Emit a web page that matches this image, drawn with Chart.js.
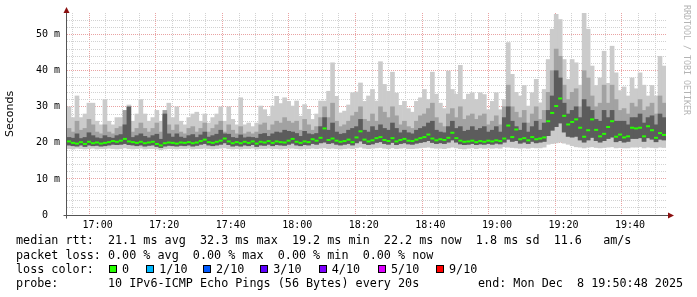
<!DOCTYPE html>
<html>
<head>
<meta charset="utf-8">
<script src="https://cdn.jsdelivr.net/npm/chart.js@4.4.1/dist/chart.umd.min.js"></script>
<style>
  html, body { margin: 0; padding: 0; background: #fff; }
  #wrap { position: relative; width: 697px; height: 297px; overflow: hidden; }
  #wrap canvas { position: absolute; left: 0; top: 0; }
  .leg { position: absolute; left: 16px; margin: 0; font: 11.75px/14px "DejaVu Sans Mono", monospace; color: #000; white-space: pre; }
  .box { position: absolute; top: 265px; width: 6px; height: 6px; border: 1px solid #000; }
  .boxlbl { position: absolute; top: 261.9px; margin: 0; font: 11.75px/14px "DejaVu Sans Mono", monospace; color: #000; white-space: pre; }
  #credit { position: absolute; left: 682px; top: 5px; writing-mode: vertical-rl; font: 8.3px "DejaVu Sans Mono", monospace; color: #b4b4b4; white-space: pre; }
</style>
</head>
<body>
<div id="wrap">
  <canvas id="smoke" width="697" height="297"></canvas>
  <div id="credit">RRDTOOL / TOBI OETIKER</div>
  <pre class="leg" id="l1" style="top:233.2px"></pre>
  <pre class="leg" id="l2" style="top:247.6px"></pre>
  <pre class="leg" id="l3" style="top:261.9px"></pre>
  <pre class="leg" id="l4" style="top:276px"></pre>
  <pre class="leg" id="l5" style="top:276px;left:478px"></pre>
</div>
<script>
/* ── data: 150 samples of 72 s, 16:50:48 → 19:50:48 (ms) ── */
const startLabel = '16:50:48';
const stepSeconds = 72;

const timeLabels = ['17:00', '17:20', '17:40', '18:00', '18:20', '18:40', '19:00', '19:20', '19:40'];

const maxRtt = [
  30, 27, 33, 27, 28, 31, 31, 26, 25, 32,
  26, 25, 27, 27, 26, 30.5, 26, 28, 32, 28,
  26, 27, 29, 26, 27, 31, 27, 30, 26, 25,
  27, 28, 28.5, 26, 28, 25.5, 27, 28, 30, 26,
  30, 26.5, 25, 32.5, 25, 25.5, 24.5, 25.5, 30.2, 29.2,
  27.4, 30.2, 32.9, 30.9, 32.5, 31.5, 30.2, 31.6, 27.4, 30.6,
  29.3, 26.5, 28, 31.6, 31.6, 34.3, 42.2, 32.9, 28.3, 28.8,
  30.5, 33.9, 34.1, 36.6, 31.5, 33, 34.8, 31.6, 42.5, 36.2,
  34.3, 39.6, 33.8, 30.4, 31.5, 29.5, 28.5, 31.5, 32.5, 34.8,
  32, 39.6, 33.5, 31, 29.5, 39.9, 34.8, 33.5, 41.5, 32,
  33.5, 33.9, 32, 33.9, 33.4, 29.2, 31.5, 33.9, 29.2, 32,
  47.8, 39, 34, 33, 35.9, 30.2, 33.9, 37.6, 31.1, 34.8,
  43.1, 51.5, 55.6, 54.2, 43.1, 37.6, 43.1, 42.2, 36, 56,
  51.5, 41.3, 35.9, 38, 45.4, 36.5, 46.8, 39.4, 34.5, 35.5,
  33, 38, 35, 39.4, 36, 33, 35.9, 33, 44, 41.3
];

const upperRtt = [
  24, 23, 26, 23.5, 24, 26.5, 25, 23, 22.5, 25,
  23, 22.5, 24, 24.5, 29, 26, 23, 24, 25.5, 24,
  23, 24, 25.5, 23, 29, 25, 23.5, 25, 23, 22.5,
  24, 24.5, 23, 24, 25.5, 23, 24, 25, 26, 23,
  25, 23.5, 22.5, 24.5, 22.5, 23, 22.5, 23, 25, 25.5,
  23.5, 25, 26, 25.5, 27, 26, 25.5, 26, 23.5, 26.5,
  25, 23.5, 24.5, 27, 30, 27, 31, 26, 24.5, 25,
  26, 27.5, 28.5, 30, 26.5, 26, 28, 26, 30, 28.5,
  27, 30, 27.5, 25, 26, 24.5, 24, 26, 27.5, 28,
  29.5, 31, 27, 25.5, 24.5, 28, 29.5, 27, 30, 26.5,
  27.5, 28, 26.5, 27.5, 28, 25, 26, 27.5, 25, 30,
  36, 30, 28.5, 27, 29, 25.5, 28, 30, 26.5, 29,
  34, 40, 46, 44, 36, 32, 34, 35, 30, 40,
  38, 33, 30, 31, 36, 31, 36, 32, 29, 29.5,
  28, 31, 30, 32, 29, 30, 31, 28, 33, 31
];

const innerRtt = [
  21.5, 21.3, 22.5, 21.2, 21.5, 22.8, 22, 21.4, 21.2, 22,
  21.5, 21.3, 22, 22.3, 25, 30, 21.5, 22, 22.5, 21.8,
  21.4, 22, 22.4, 21, 28, 22.5, 21.6, 22.5, 21.6, 21.3,
  22, 22.3, 21.5, 22.2, 23, 21.6, 22, 22.4, 23.5, 22.5,
  22.4, 21.5, 21.3, 22.2, 21.4, 21.6, 21.5, 21.3, 22.4, 22.6,
  21.8, 22.5, 23, 22.8, 23.5, 23.2, 23, 22.6, 21.8, 23.2,
  22.5, 22.3, 22.6, 24.5, 27, 23.5, 25.5, 23, 22.4, 22.6,
  23.5, 24, 24.5, 26.5, 23.5, 23, 24.5, 23.5, 25, 24,
  23.5, 25.5, 24, 22.8, 23.5, 22.8, 22.5, 23.5, 24, 24.5,
  25.5, 26, 23.5, 23, 22.8, 24.5, 26, 24, 24.5, 23.2,
  23.5, 24.5, 23.5, 24, 24.5, 23, 23.5, 24.5, 23, 27,
  30, 26, 24.5, 23.5, 25.5, 23, 24.5, 26, 23.5, 25.5,
  29, 33, 40, 38, 31, 28, 29, 30, 27, 32,
  30, 29, 26.5, 26, 29, 27, 29, 26, 26, 26,
  25, 27, 27, 28, 25.5, 27, 27.5, 25, 28, 27
];

const medianRtt = [
  20.4, 20.0, 19.8, 20.2, 19.7, 20.3, 19.9, 20.1, 19.8, 20.0,
  20.2, 20.5, 20.3, 20.6, 21.1, 20.4, 20.2, 20.0, 20.3, 19.9,
  20.1, 20.3, 19.7, 19.3, 19.9, 20.1, 20.0, 19.8, 20.1, 20.0,
  20.2, 19.9, 20.1, 20.5, 20.9, 20.2, 20.0, 20.3, 20.6, 21.2,
  20.4, 19.9, 20.2, 19.9, 20.3, 20.0, 20.4, 19.8, 20.3, 20.1,
  20.5, 20.0, 20.4, 20.2, 20.1, 20.6, 21.1, 20.3, 20.0, 20.4,
  20.2, 21.0, 20.6, 21.4, 24.0, 20.8, 21.2, 20.6, 20.3, 20.5,
  20.9, 20.2, 21.5, 23.2, 20.9, 20.4, 20.7, 21.3, 21.6, 20.8,
  20.5, 21.3, 20.4, 20.8, 21.1, 20.6, 20.5, 20.9, 21.3, 21.6,
  22.3, 21.2, 20.7, 21.0, 20.8, 21.4, 22.8, 21.3, 20.6, 20.3,
  20.4, 20.6, 20.2, 20.5, 20.3, 20.6, 20.4, 20.7, 20.5, 21.2,
  24.8, 21.6, 23.7, 21.0, 21.3, 20.7, 21.6, 21.0, 21.2, 21.5,
  26.0, 28.3, 30.2, 32.3, 27.5, 25.1, 25.8, 26.5, 24.2, 21.7,
  23.5, 26.5, 23.6, 21.8, 22.5, 24.4, 26.0, 21.7, 22.3, 21.5,
  21.8, 24.2, 24.0, 24.2, 21.8, 24.6, 23.5, 21.4, 22.7, 22.2
];

const lowRtt = [
  19.4, 19.2, 19.1, 19.4, 19.0, 19.4, 19.2, 19.3, 19.1, 19.2,
  19.4, 19.6, 19.5, 19.6, 19.8, 19.5, 19.4, 19.2, 19.4, 19.1,
  19.3, 19.4, 19.0, 18.7, 19.1, 19.3, 19.2, 19.1, 19.3, 19.2,
  19.4, 19.1, 19.3, 19.6, 19.8, 19.4, 19.2, 19.4, 19.6, 20.0,
  19.5, 19.1, 19.3, 19.1, 19.4, 19.2, 19.5, 19.0, 19.4, 19.3,
  19.6, 19.2, 19.5, 19.4, 19.3, 19.6, 19.9, 19.4, 19.2, 19.5,
  19.4, 19.8, 19.6, 20.0, 20.2, 19.8, 20.0, 19.6, 19.4, 19.6,
  19.8, 19.4, 20.0, 20.5, 19.8, 19.5, 19.7, 20.1, 20.3, 19.8,
  19.6, 20.1, 19.5, 19.8, 20.0, 19.7, 19.6, 19.9, 20.1, 20.3,
  20.6, 20.1, 19.8, 20.0, 19.8, 20.2, 20.8, 20.2, 19.7, 19.5,
  19.6, 19.8, 19.5, 19.7, 19.6, 19.8, 19.6, 19.9, 19.7, 20.2,
  21.0, 20.4, 20.6, 19.9, 20.2, 19.8, 20.4, 20.0, 20.2, 20.4,
  22.0, 23.5, 24.5, 25.5, 23.0, 21.8, 21.6, 21.8, 20.8, 20.2,
  20.8, 21.5, 20.6, 20.2, 20.6, 21.2, 21.6, 20.3, 20.6, 20.2,
  20.4, 21.2, 21.2, 21.4, 20.4, 21.4, 21.0, 20.3, 21.0, 20.8
];

const minRtt = [
  18.4, 18.3, 18.5, 18.4, 18.3, 18.4, 18.5, 18.3, 18.4, 18.4,
  18.5, 18.4, 18.3, 18.4, 18.6, 18.4, 18.3, 18.4, 18.5, 18.3,
  18.4, 18.4, 18.3, 18.1, 18.3, 18.4, 18.4, 18.3, 18.4, 18.4,
  18.5, 18.3, 18.4, 18.4, 18.5, 18.4, 18.3, 18.4, 18.5, 18.6,
  18.4, 18.3, 18.4, 18.3, 18.4, 18.4, 18.5, 18.3, 18.4, 18.4,
  18.5, 18.4, 18.4, 18.3, 18.4, 18.5, 18.5, 18.4, 18.3, 18.4,
  18.4, 18.5, 18.4, 18.5, 18.6, 18.4, 18.5, 18.4, 18.3, 18.4,
  18.5, 18.4, 18.6, 18.8, 18.5, 18.4, 18.5, 18.6, 18.7, 18.5,
  18.4, 18.6, 18.4, 18.5, 18.6, 18.4, 18.4, 18.5, 18.6, 18.7,
  18.8, 18.6, 18.5, 18.5, 18.4, 18.6, 18.8, 18.6, 18.4, 18.3,
  18.5, 18.6, 18.4, 18.6, 18.5, 18.6, 18.5, 18.6, 18.5, 18.9,
  18.8, 18.7, 18.6, 18.5, 18.6, 18.5, 18.7, 18.6, 18.6, 18.8,
  19.6, 19.8, 20.0, 20.2, 19.9, 19.6, 19.2, 18.9, 18.8, 18.6,
  18.8, 18.9, 18.7, 18.6, 18.7, 18.8, 18.9, 18.6, 18.7, 18.6,
  18.6, 18.8, 18.8, 18.9, 18.6, 18.8, 18.7, 18.6, 18.8, 18.7
];

const statsLine = 'median rtt:  21.1 ms avg  32.3 ms max  19.2 ms min  22.2 ms now  1.8 ms sd  11.6   am/s';
const lossLine = 'packet loss: 0.00 % avg  0.00 % max  0.00 % min  0.00 % now';
const lossLabels = ['0', '1/10', '2/10', '3/10', '4/10', '5/10', '9/10'];
const lossColors = ['#26ff00', '#00b8ff', '#0059ff', '#5e00ff', '#7e00ff', '#dd00ff', '#ff0000'];
const probeLine = 'probe:       10 IPv6-ICMP Echo Pings (56 Bytes) every 20s';
const endLine = 'end: Mon Dec  8 19:50:48 2025';

/* ── helpers ── */
function hmToMin(s) {
  const p = s.split(':').map(Number);
  return p[0] * 60 + p[1] + (p[2] || 0) / 60;
}

const startMin = hmToMin(startLabel);
const stepMin = stepSeconds / 60;
const endMin = startMin + stepMin * maxRtt.length;
const times = maxRtt.map((_, i) => startMin + stepMin * (i + 0.5));
const majorMin = timeLabels.map(hmToMin);

const minorTicks = [];
for (let v = Math.ceil(startMin / 5) * 5; v <= endMin; v += 5) minorTicks.push(v);

const MINOR = '#d2d2d2';
const MAJOR = '#e9a3a3';
const MONO = 'DejaVu Sans Mono';

function band(lo, hi) {
  return times.map((t, i) => ({ x: t, y: [lo[i], hi[i]] }));
}

function tickVal(c) {
  return c && c.tick ? c.tick.value : NaN;
}

const barBase = { type: 'bar', grouped: false, barPercentage: 1, categoryPercentage: 1, borderWidth: 0 };

// axis lines + rrdtool arrows
const axisArrows = {
  id: 'axisArrows',
  afterDraw(chart) {
    const { ctx, chartArea: a } = chart;
    const x0 = Math.round(a.left) - 0.5;
    const y0 = Math.round(a.bottom) + 0.5;
    ctx.save();
    ctx.strokeStyle = '#555';
    ctx.lineWidth = 1;
    ctx.beginPath();
    ctx.moveTo(x0, a.top - 2);
    ctx.lineTo(x0, y0 + 3);
    ctx.moveTo(x0 - 3, y0);
    ctx.lineTo(a.right + 3, y0);
    ctx.stroke();
    ctx.fillStyle = '#8b1010';
    ctx.beginPath();
    ctx.moveTo(x0, a.top - 6);
    ctx.lineTo(x0 - 3, a.top);
    ctx.lineTo(x0 + 3, a.top);
    ctx.closePath();
    ctx.fill();
    ctx.beginPath();
    ctx.moveTo(a.right + 8, y0);
    ctx.lineTo(a.right + 2, y0 - 3);
    ctx.lineTo(a.right + 2, y0 + 3);
    ctx.closePath();
    ctx.fill();
    ctx.restore();
  }
};

new Chart(document.getElementById('smoke'), {
  type: 'bar',
  data: {
    datasets: [
      { type: 'line', data: times.map((t, i) => ({ x: t, y: medianRtt[i] })), showLine: false,
        pointStyle: 'line', pointRadius: 2, pointBorderWidth: 2, pointBorderColor: '#26ff00', pointHoverRadius: 2 },
      { ...barBase, data: band(lowRtt, innerRtt), backgroundColor: '#5c5c5c' },
      { ...barBase, data: band(lowRtt, upperRtt), backgroundColor: '#a2a2a2' },
      { ...barBase, data: band(minRtt, maxRtt), backgroundColor: '#cbcbcb' }
    ]
  },
  options: {
    responsive: false,
    animation: false,
    devicePixelRatio: 1,
    layout: { padding: { top: 13, right: 31, left: 0, bottom: 0 } },
    plugins: { legend: { display: false }, tooltip: { enabled: false } },
    scales: {
      x: {
        type: 'linear',
        min: startMin,
        max: endMin,
        offset: false,
        afterBuildTicks: s => { s.ticks = minorTicks.map(v => ({ value: v })); },
        afterFit: s => { s.height = 82; },
        ticks: {
          autoSkip: false, maxRotation: 0, padding: 4, color: '#000',
          font: { family: MONO, size: 10 },
          callback: v => { const k = majorMin.indexOf(v); return k < 0 ? '' : timeLabels[k]; }
        },
        grid: { drawTicks: false, color: c => majorMin.includes(tickVal(c)) ? MAJOR : MINOR },
        border: { display: false, dash: [1, 1] }
      },
      y: {
        min: 0,
        max: 56,
        afterBuildTicks: s => { const t = []; for (let v = 0; v <= 54; v += 2) t.push({ value: v }); s.ticks = t; },
        afterFit: s => { s.width = 67; },
        ticks: {
          autoSkip: false, padding: 7, color: '#000',
          font: { family: MONO, size: 10 },
          callback: v => v % 10 ? '' : (v === 0 ? '0  ' : v + ' m')
        },
        grid: { drawTicks: false, color: c => tickVal(c) % 10 === 0 ? MAJOR : MINOR },
        border: { display: false, dash: [1, 1] },
        title: { display: true, text: 'Seconds', color: '#000', font: { family: 'DejaVu Sans', size: 11 }, padding: { top: 4, bottom: 0 } }
      }
    }
  },
  plugins: [axisArrows]
});

/* ── legend text ── */
document.getElementById('l1').textContent = statsLine;
document.getElementById('l2').textContent = lossLine;
document.getElementById('l3').textContent = 'loss color:';
document.getElementById('l4').textContent = probeLine;
document.getElementById('l5').textContent = endLine;

const boxLeft = [108.7, 146, 202.7, 260, 318.5, 377.7, 435.7];
const wrap = document.getElementById('wrap');
lossLabels.forEach((lbl, i) => {
  const b = document.createElement('div');
  b.className = 'box';
  b.style.left = boxLeft[i] + 'px';
  b.style.background = lossColors[i];
  wrap.appendChild(b);
  const t = document.createElement('pre');
  t.className = 'boxlbl';
  t.style.left = (boxLeft[i] + 13.3) + 'px';
  t.textContent = lbl;
  wrap.appendChild(t);
});
</script>
</body>
</html>
